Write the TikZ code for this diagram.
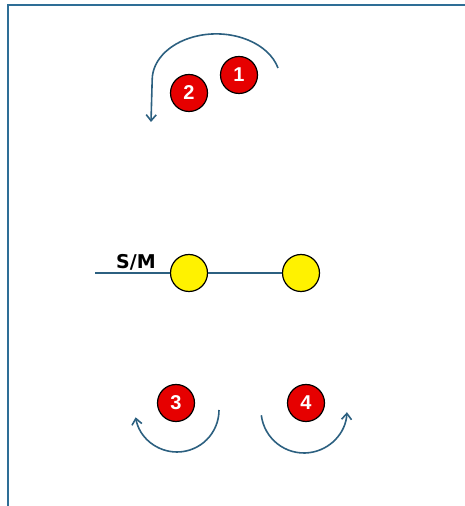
\documentclass[tikz,border=0pt]{standalone}
\usepackage{fontspec}
\usepackage{tikz}
\usetikzlibrary{arrows.meta}
\newfontfamily\ballfont{Liberation Sans}
\newfontfamily\labelfont{DejaVu Sans}
\definecolor{framecol}{RGB}{46,110,150}
\definecolor{arccol}{RGB}{44,96,128}
\definecolor{ballred}{RGB}{230,0,0}

\begin{document}
\begin{tikzpicture}[x=1pt,y=1pt,
  redball/.style={circle,draw=black,line width=1.2pt,fill=ballred,minimum size=37pt,inner sep=0pt,
    text=white,font=\ballfont\fontsize{20}{20}\selectfont\bfseries},
  yellowball/.style={circle,draw=black,line width=1.2pt,fill=yellow,minimum size=37pt,inner sep=0pt},
  turn/.style={draw=arccol,line width=1.6pt,-{Straight Barb[length=6pt,width=10pt]}}]
\useasboundingbox (0,0) rectangle (464,506);
\draw [framecol,line width=2.6pt] (8,0) -- (8,501) -- (466,501);
% balls
\node [redball] (b1) at (239,431) {1};
\node [redball] (b2) at (189,413) {2};
\node [redball] (b3) at (176,103) {3};
\node [redball] (b4) at (306,103) {4};
\node [yellowball] (y1) at (189,233) {};
\node [yellowball] (y2) at (301,233) {};
\coordinate (sm) at (95,233);
\draw [arccol,line width=1.5pt] (sm) -- (y1) -- (y2);
\node [font=\labelfont\fontsize{19}{19}\selectfont\bfseries] (smlabel) at (136,244) {S/M};
% turns
\draw [turn] (278,438) arc [start angle=15,end angle=180,x radius=64,y radius=46] -- (151,384);
\draw [turn] (219,96) arc [start angle=0,end angle=-170,radius=42];
\draw [turn] (304,96) ++(187:43) arc [start angle=187,end angle=357,radius=43];
\end{tikzpicture}
\end{document}
